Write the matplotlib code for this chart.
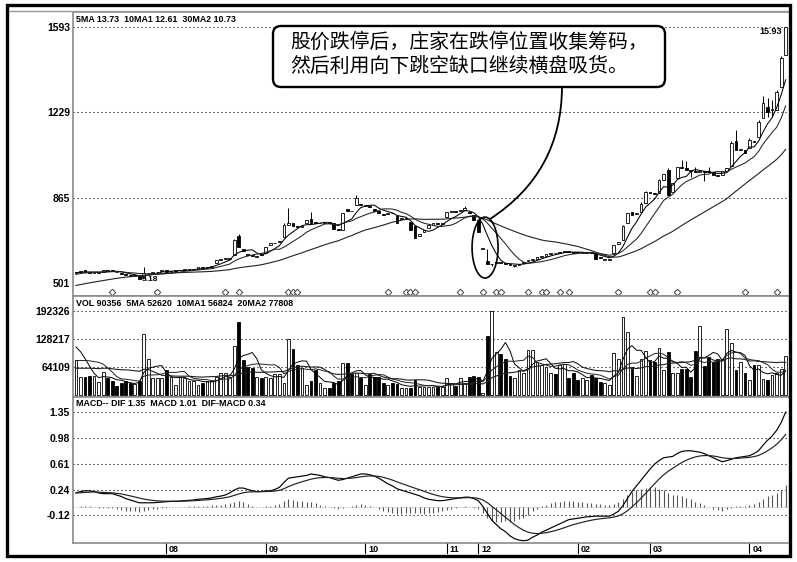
import numpy as np
import pandas as pd
import matplotlib
matplotlib.use("Agg")
import matplotlib.pyplot as plt
from matplotlib.patches import Rectangle, Ellipse, FancyBboxPatch, ConnectionPatch
from matplotlib.transforms import blended_transform_factory, IdentityTransform
from matplotlib.lines import Line2D

plt.rcParams['font.family'] = ['Liberation Sans', 'DejaVu Sans']

# ---------------- data ----------------
hist_close = [4.35, 4.40, 4.38, 4.45, 4.50, 4.48, 4.55, 4.60, 4.58, 4.65,
              4.70, 4.68, 4.75, 4.80, 4.78, 4.85, 4.90, 4.95, 5.00, 5.05,
              5.15, 5.25, 5.30, 5.38, 5.42, 5.45, 5.40, 5.46, 5.44]

open_ = [5.45, 5.50, 5.55, 5.50, 5.43, 5.44, 5.50, 5.58, 5.58, 5.50,
         5.45, 5.38, 5.33, 5.31, 5.30, 5.22, 5.42, 5.44, 5.46, 5.52,
         5.56, 5.50, 5.51, 5.55, 5.56, 5.57, 5.59, 5.62, 5.68, 5.66,
         5.71, 5.85, 5.98, 6.03, 6.05, 6.20, 7.02, 6.44, 6.25, 6.17,
         6.14, 6.26, 6.29, 6.65, 6.70, 6.74, 6.98, 7.50, 7.56, 7.42,
         7.40, 7.58, 7.72, 7.57, 7.55, 7.56, 7.58, 7.57, 7.30, 7.27,
         8.15, 8.10, 8.34, 8.36, 8.30, 8.28, 8.18, 8.08, 7.95, 7.95,
         8.00, 7.85, 7.72, 7.74, 7.62, 7.44, 7.03, 7.20, 7.35, 7.48,
         7.58, 7.52, 7.83, 8.03, 8.05, 8.06, 8.12, 8.05, 7.91, 7.70,
         6.48, 5.95, 5.80, 5.86, 5.88, 5.85, 5.84, 5.72, 5.78, 5.85,
         5.94, 5.99, 6.04, 6.12, 6.18, 6.25, 6.30, 6.28, 6.34, 6.38,
         6.33, 6.30, 6.28, 6.29, 6.30, 6.29, 6.10, 6.00, 5.98, 6.29,
         6.68, 6.84, 7.56, 8.05, 7.96, 8.05, 8.42, 8.86, 8.84, 8.85,
         9.40, 9.83, 8.90, 9.49, 9.95, 9.90, 9.80, 9.77, 9.75, 9.75,
         9.76, 9.74, 9.60, 9.62, 9.80, 10.00, 11.05, 10.68, 10.70, 10.77,
         11.08, 11.24, 12.05, 12.52, 12.39, 12.39, 13.37, 14.74]

close = [5.50, 5.54, 5.48, 5.45, 5.44, 5.48, 5.56, 5.53, 5.52, 5.46,
         5.39, 5.34, 5.30, 5.35, 5.20, 5.42, 5.45, 5.46, 5.50, 5.57,
         5.50, 5.51, 5.55, 5.56, 5.57, 5.60, 5.61, 5.69, 5.65, 5.71,
         5.75, 5.99, 6.03, 6.06, 6.08, 6.84, 6.55, 6.38, 6.20, 6.15,
         6.17, 6.22, 6.56, 6.72, 6.73, 6.78, 7.48, 7.55, 7.42, 7.40,
         7.42, 7.70, 7.57, 7.56, 7.57, 7.58, 7.56, 7.31, 7.27, 8.00,
         8.08, 8.06, 8.65, 8.34, 8.31, 8.26, 8.10, 8.00, 7.92, 8.00,
         7.98, 7.57, 7.78, 7.76, 7.27, 6.95, 7.08, 7.28, 7.48, 7.55,
         7.52, 7.56, 8.05, 8.06, 8.04, 8.12, 8.20, 7.98, 7.70, 7.20,
         6.48, 5.83, 5.84, 5.90, 5.86, 5.82, 5.76, 5.76, 5.82, 5.92,
         5.99, 6.02, 6.11, 6.16, 6.25, 6.28, 6.27, 6.33, 6.39, 6.34,
         6.30, 6.28, 6.30, 6.30, 6.28, 6.05, 6.06, 6.01, 6.02, 6.63,
         6.75, 7.42, 7.98, 7.92, 8.00, 8.40, 8.90, 8.85, 8.80, 9.40,
         9.65, 8.76, 9.28, 9.96, 9.92, 9.85, 9.78, 9.75, 9.76, 9.74,
         9.74, 9.60, 9.58, 9.78, 9.90, 11.00, 10.68, 10.70, 10.56, 11.11,
         11.03, 11.88, 12.69, 12.30, 12.39, 13.16, 14.61, 15.93]

# visible shadows (bar index: extreme); bars not listed end at their body
upper_shadow = {15: 5.70, 35: 6.88, 36: 7.10, 46: 7.55, 47: 8.21, 52: 8.03,
                62: 8.75, 86: 8.30, 89: 7.75, 91: 6.46, 121: 7.50, 125: 8.45,
                126: 8.95, 129: 9.45, 131: 9.90, 134: 10.26, 135: 10.20,
                137: 9.95, 140: 9.95, 145: 11.05, 146: 11.55, 149: 11.20,
                151: 11.95, 152: 13.00, 153: 12.90, 154: 12.80, 155: 13.25,
                156: 14.70, 157: 15.93}
lower_shadow = {14: 5.18, 92: 5.75, 97: 5.70, 131: 8.70, 136: 9.55,
                139: 9.35, 153: 12.10, 154: 12.10}

hist_volume_k = [45, 40, 38, 50, 42, 36, 40, 55, 48, 44, 38, 42, 50, 60, 48,
                 95, 120, 130, 125]
volume_k = [80, 41, 41, 43, 43, 30, 53, 38, 33, 20, 27, 33, 27, 25, 33, 140, 82, 38, 38, 38,
            57, 42, 23, 42, 38, 33, 33, 23, 28, 33, 33, 42, 50, 50, 42, 112, 167, 80, 65, 62,
            42, 38, 42, 38, 47, 47, 27, 128, 105, 69, 62, 23, 33, 57, 27, 16, 16, 27, 33, 73,
            73, 47, 50, 38, 23, 47, 42, 42, 27, 23, 27, 25,
            16, 16, 16, 34, 19, 19, 19, 19, 19, 19, 40, 27, 20, 40, 27, 41, 44, 41, 5, 135,
            192, 98, 94, 82, 43, 38, 57, 50, 103, 103, 76, 69, 64, 50, 48, 69, 71, 40, 50, 34,
            40, 34, 46, 40, 30,
            27, 23, 96, 82, 179, 144, 64, 43, 82, 101, 80, 76, 108, 57, 98, 50, 50, 60, 60, 41,
            101, 158, 66, 87, 76, 82, 82, 151, 119, 57, 76, 50, 34, 69, 69, 36, 34, 46, 50, 60, 89]

dif = [0.20, 0.22, 0.23, 0.23, 0.22, 0.20, 0.19, 0.19, 0.19, 0.17,
       0.15, 0.12, 0.10, 0.08, 0.06, 0.06, 0.06, 0.06, 0.065, 0.07,
       0.075, 0.08, 0.08, 0.085, 0.09, 0.095, 0.10, 0.11, 0.115, 0.12,
       0.13, 0.145, 0.155, 0.17, 0.20, 0.24, 0.27, 0.27, 0.25, 0.23,
       0.22, 0.22, 0.23, 0.23, 0.25, 0.28, 0.35, 0.41, 0.42, 0.43,
       0.44, 0.45, 0.47, 0.46, 0.45, 0.43, 0.42, 0.40, 0.38, 0.39,
       0.41, 0.43, 0.45, 0.47, 0.47, 0.46, 0.44, 0.41, 0.37, 0.33,
       0.30, 0.26, 0.24, 0.22, 0.20, 0.18, 0.16, 0.13, 0.11, 0.10,
       0.09, 0.09, 0.10, 0.11, 0.12, 0.13, 0.14, 0.14, 0.12, 0.09,
       0.01, -0.09, -0.19, -0.25, -0.31, -0.35, -0.41, -0.45, -0.47, -0.48,
       -0.47, -0.43, -0.40, -0.36, -0.33, -0.30, -0.27, -0.24, -0.21, -0.18,
       -0.17, -0.16, -0.15, -0.14, -0.135, -0.13, -0.13, -0.13, -0.13, -0.10,
       -0.06, 0.02, 0.12, 0.22, 0.30, 0.38, 0.46, 0.54, 0.61, 0.66,
       0.70, 0.71, 0.72, 0.76, 0.79, 0.80, 0.80, 0.79, 0.78, 0.76,
       0.73, 0.70, 0.67, 0.645, 0.66, 0.68, 0.70, 0.71, 0.72, 0.73,
       0.76, 0.80, 0.88, 0.95, 1.01, 1.09, 1.20, 1.35]

diamond_bars = [8, 18, 33, 36, 47, 48, 49, 69, 73, 74, 75, 85, 90, 93, 94, 100,
                103, 104, 107, 109, 120, 127, 128, 133, 148, 155]

month_bars = [20, 42, 64, 82, 89, 111, 127, 149]
month_labels = ['08', '09', '10', '11', '12', '02', '03', '04']

price_ticks = [15.93, 12.29, 8.65, 5.01]
price_tick_labels = ['1593', '1229', '865', '501']
vol_ticks = [192326, 128217, 64109]
vol_tick_labels = ['192326', '128217', '64109']
macd_ticks = [1.35, 0.98, 0.61, 0.24, -0.12]
macd_tick_labels = ['1.35', '0.98', '0.61', '0.24', '-0.12']

price_header = '5MA 13.73  10MA1 12.61  30MA2 10.73'
vol_header = 'VOL 90356  5MA 52620  10MA1 56824  20MA2 77808'
macd_header = 'MACD-- DIF 1.35  MACD 1.01  DIF-MACD 0.34'
note_lines = ['股价跌停后，庄家在跌停位置收集筹码，', '然后利用向下跳空缺口继续横盘吸货。']

# ---------------- derived ----------------
O = np.array(open_)
C = np.array(close)
N = len(C)
x = np.arange(N)
up = C >= O
body_lo = np.minimum(O, C)
body_hi = np.maximum(O, C)
hi = body_hi.copy()
lo = body_lo.copy()
for k, v in upper_shadow.items():
    hi[k] = v
for k, v in lower_shadow.items():
    lo[k] = v

full_close = pd.Series(np.r_[hist_close, C])
nh = len(hist_close)
ma5 = full_close.rolling(5).mean().values[nh:]
ma10 = full_close.rolling(10).mean().values[nh:]
ma30 = full_close.rolling(30).mean().values[nh:]

vol = np.array(volume_k) * 1000.0
full_vol = pd.Series(np.r_[np.array(hist_volume_k) * 1000.0, vol])
nv = len(hist_volume_k)
vma5 = full_vol.rolling(5).mean().values[nv:]
vma10 = full_vol.rolling(10).mean().values[nv:]
vma20 = full_vol.rolling(20).mean().values[nv:]

DIF = np.array(dif)
DEA = pd.Series(DIF).ewm(span=9, adjust=False).mean().values
HIST = DIF - DEA

# ---------------- figure ----------------
W, H = 797, 562
fig = plt.figure(figsize=(W / 100, H / 100), dpi=100)
fig.patch.set_facecolor('white')


def ax_px(l, t, r, b):
    return fig.add_axes([l / W, 1 - b / H, (r - l) / W, (b - t) / H])


ax1 = ax_px(73, 12, 788, 296)
ax2 = ax_px(73, 296, 788, 397)
ax3 = ax_px(73, 397, 788, 543)

XL = (-0.664, 157.52)
dot = (0, (1, 2.6))
tick_font = dict(fontsize=7.5, fontweight='bold')
hdr_font = dict(fontsize=6.4, fontweight='bold', family=['Liberation Sans Narrow', 'Liberation Sans'])

for ax in (ax1, ax2, ax3):
    ax.set_xlim(*XL)
    ax.set_xticks([])
    ax.tick_params(axis='y', length=0, pad=2.2)
    for s in ('top', 'bottom', 'left'):
        ax.spines[s].set_color('#8a8a8a')
        ax.spines[s].set_linewidth(1.2)
    ax.spines['right'].set_visible(False)
    ax.set_facecolor('white')

# ---- price panel
ax1.set_ylim(4.455, 16.57)
ax1.set_yticks(price_ticks)
ax1.set_yticklabels(price_tick_labels, **tick_font)
for lv in price_ticks[:3]:
    ax1.axhline(lv, color='k', lw=0.8, ls=dot, zorder=1)
ax1.vlines(x, lo, hi, color='k', lw=0.7, zorder=2)
ax1.bar(x, np.maximum(body_hi - body_lo, 0.035), bottom=body_lo, width=0.62,
        color=np.where(up, 'white', 'black'), edgecolor='k', linewidth=0.6, zorder=3)
ax1.plot(x, ma5, color='k', lw=0.75, zorder=4)
ax1.plot(x, ma10, color='#222', lw=0.75, zorder=4)
ax1.plot(x, ma30, color='#222', lw=0.8, zorder=4)
tr1 = blended_transform_factory(ax1.transData, ax1.transAxes)
ax1.plot(diamond_bars, [0.014] * len(diamond_bars), transform=tr1, ls='none',
         marker='D', ms=3.3, mfc='white', mec='#444', mew=0.7, zorder=4, clip_on=False)
ax1.text(0.004, 0.99, price_header, transform=ax1.transAxes, va='top', ha='left', **hdr_font)
ax1.text(156.2, 15.93, '15.93', ha='right', va='top', fontsize=6.5, fontweight='bold')
ax1.text(14.6, 5.18, '5.18', ha='left', va='center', fontsize=6, fontweight='bold')

# annotation ellipse and callout
ell = Ellipse((90.5, 6.52), width=5.75, height=2.6, fill=False, ec='k', lw=1.2, zorder=6)
ax1.add_patch(ell)

box = FancyBboxPatch((273, H - 87), 392, 61, boxstyle='round,pad=0,rounding_size=8',
                     transform=IdentityTransform(), fc='white', ec='k', lw=1.7, zorder=10)
fig.add_artist(box)
fig.text(290 / W, 1 - 42 / H, note_lines[0], fontsize=14.3, ha='left', va='center',
         family=['Noto Sans CJK SC', 'DejaVu Sans'], zorder=11)
fig.text(290 / W, 1 - 66 / H, note_lines[1], fontsize=14.3, ha='left', va='center',
         family=['Noto Sans CJK SC', 'DejaVu Sans'], zorder=11)
con = ConnectionPatch(xyA=(91.6, 7.74), coordsA='data', axesA=ax1,
                      xyB=(562 / W, 1 - 87 / H), coordsB='figure fraction',
                      connectionstyle='arc3,rad=0.27', arrowstyle='-', lw=1.3, color='k',
                      shrinkA=0, shrinkB=0, zorder=9)
fig.add_artist(con)

# ---- volume panel
ax2.set_ylim(-4600, 226700)
ax2.set_yticks(vol_ticks)
ax2.set_yticklabels(vol_tick_labels, **tick_font)
for lv in vol_ticks:
    ax2.axhline(lv, color='k', lw=0.8, ls=dot, zorder=1)
ax2.bar(x, vol, width=0.62, color=np.where(up, 'white', 'black'), edgecolor='k',
        linewidth=0.6, zorder=2)
ax2.plot(x, vma5, color='k', lw=0.7, zorder=3)
ax2.plot(x, vma10, color='#222', lw=0.7, zorder=3)
ax2.plot(x, vma20, color='#222', lw=0.8, zorder=3)
ax2.text(0.004, 0.975, vol_header, transform=ax2.transAxes, va='top', ha='left', **hdr_font)

# ---- MACD panel
ax3.set_ylim(-0.512, 1.565)
ax3.set_yticks(macd_ticks)
ax3.set_yticklabels(macd_tick_labels, **tick_font)
for lv in macd_ticks:
    ax3.axhline(lv, color='k', lw=0.8, ls=dot, zorder=1)
ax3.axhline(0, color='#777', lw=0.6, ls=dot, zorder=1)
ax3.vlines(x, 0, HIST, color='#555', lw=0.8, zorder=2)
ax3.plot(x, DIF, color='k', lw=0.85, zorder=3)
ax3.plot(x, DEA, color='#222', lw=0.85, zorder=3)
ax3.text(0.004, 0.985, macd_header, transform=ax3.transAxes, va='top', ha='left', **hdr_font)

tr3 = blended_transform_factory(ax3.transData, ax3.transAxes)
for m, lab in zip(month_bars, month_labels):
    ax3.plot([m, m], [0, -0.068], transform=tr3, color='k', lw=0.8, clip_on=False)
    ax3.text(m + 0.6, -0.042, lab, transform=tr3, ha='left', va='center',
             fontsize=6.5, fontweight='bold')

# ---- outer frame
fig.add_artist(Line2D([8 / W, 789 / W], [1 - 10.5 / H, 1 - 10.5 / H], color='#9a9a9a', lw=1.0))
fig.add_artist(Rectangle((7 / W, 1 - 556 / H), 783 / W, 551 / H, fill=False, ec='k', lw=2.4,
                         transform=fig.transFigure, zorder=20))

fig.savefig('out.png', dpi=100, facecolor='white')
